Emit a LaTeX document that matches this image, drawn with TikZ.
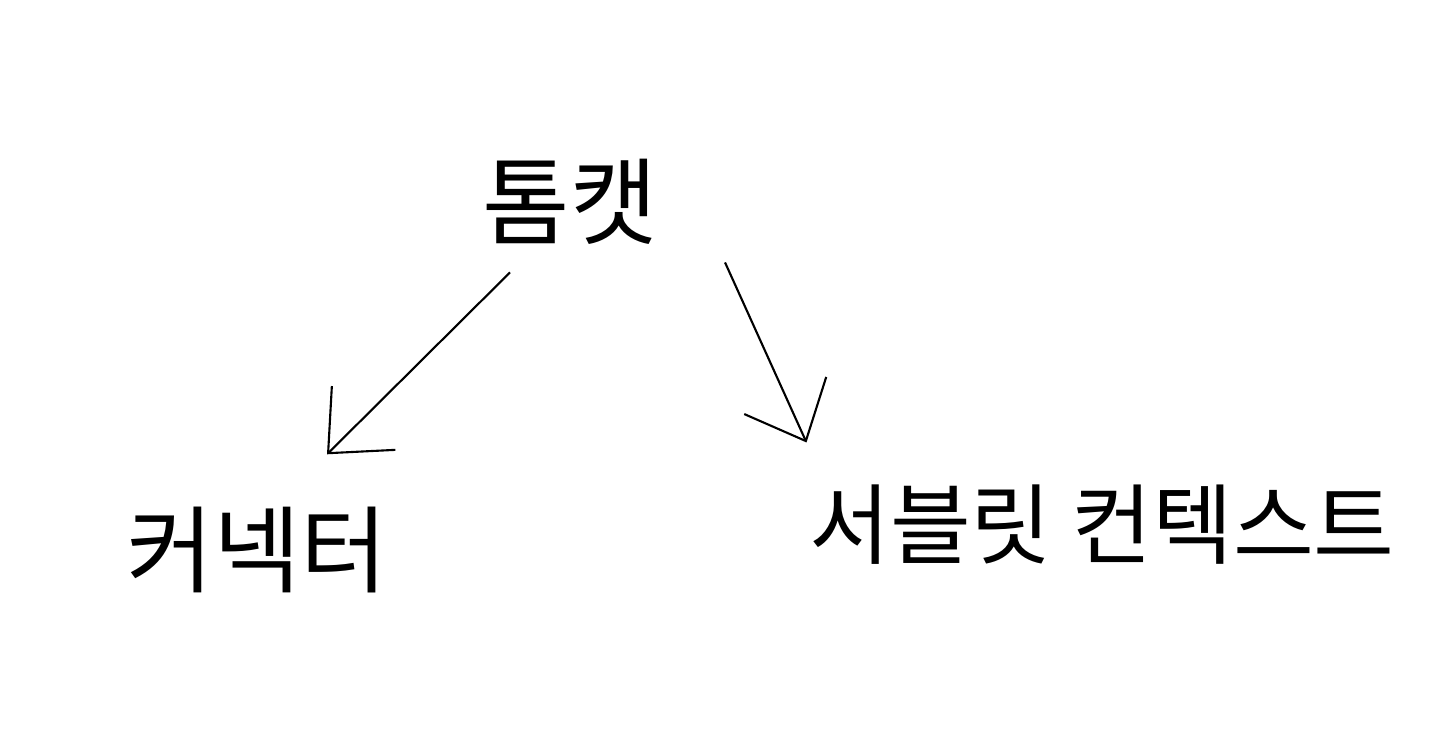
\documentclass[tikz,border=0pt]{standalone}
\usepackage{fontspec}
\newfontfamily\kr{Noto Sans CJK KR}
\usetikzlibrary{arrows.meta}
\usetikzlibrary{positioning}
\tikzset{>=latex}

\begin{document}
\begin{tikzpicture}
            \tikzset{word/.style={font={\kr\fontsize{27}{30}\selectfont}, inner sep=2pt}}
            \tikzset{flow/.style={-{Straight Barb[length=5mm, width=9mm]}, line width=0.6pt}}
            \useasboundingbox (0, 0) rectangle (14.4, -7.52);
            \node[word] (tomcat) at (5.7, -2.02) {톰캣};
            \node[word] (connector) at (2.57, -5.5) {커넥터};
            \node[word, font={\kr\fontsize{25}{28}\selectfont}] (context) at (11.02, -5.25) {서블릿 컨텍스트};
            
            \draw[flow] ([shift={(0.35, -0.2)}]tomcat.south west) -- ([shift={(0.7, 0.45)}]connector.north);
            \draw[flow] ([shift={(0.6, -0.1)}]tomcat.south east) -- ([shift={(0.05, 0.35)}]context.north west);
        \end{tikzpicture}
\end{document}
